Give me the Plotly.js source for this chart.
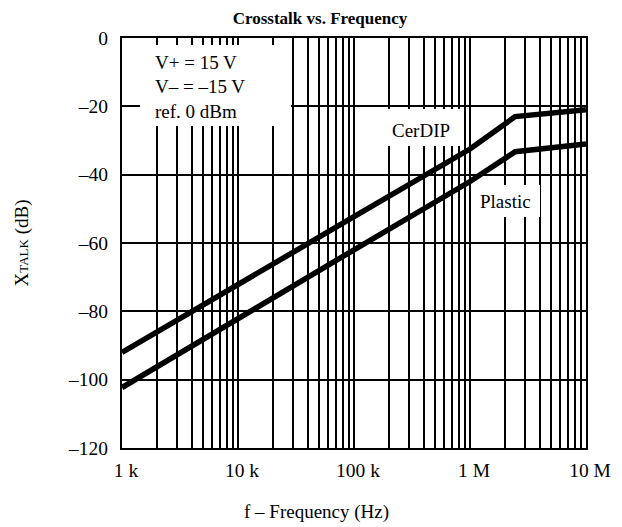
<!DOCTYPE html>
<html>
<head>
<meta charset="utf-8">
<script src="https://cdn.plot.ly/plotly-3.0.1.min.js"></script>
<style>html,body{margin:0;padding:0;background:#fff;}</style>
</head>
<body>
<div id="chart" style="width:622px;height:527px;"></div>
<script>
// Data
const freqHz = [1e3, 1e4, 1e5, 1e6, 2.45e6, 1e7];
const cerdipDb = [-92, -72, -52.3, -32.5, -23, -21];
const plasticDb = [-102.3, -82, -62, -42, -33.3, -31];

const xTickVals = [1e3,2e3,3e3,4e3,5e3,6e3,7e3,8e3,9e3,
                   1e4,2e4,3e4,4e4,5e4,6e4,7e4,8e4,9e4,
                   1e5,2e5,3e5,4e5,5e5,6e5,7e5,8e5,9e5,
                   1e6,2e6,3e6,4e6,5e6,6e6,7e6,8e6,9e6,1e7];
const xTickText = ['1 k','','','','','','','','',
                   '10 k','','','','','','','','',
                   '100 k','','','','','','','','',
                   '1 M','','','','','','','','',
                   '10 M'];
const yTickVals = [0, -20, -40, -60, -80, -100, -120];
const yTickText = ['0', '–20', '–40', '–60', '–80', '–100', '–120'];

const seriesNames = ['CerDIP', 'Plastic'];
const conditionLines = ['V+ = 15 V', 'V– = –15 V', 'ref. 0 dBm'];

const FONT = 'Liberation Serif, Times New Roman, serif';

const traces = [
  {x: freqHz, y: cerdipDb, name: seriesNames[0], mode: 'lines', line: {color: '#000', width: 5.5}},
  {x: freqHz, y: plasticDb, name: seriesNames[1], mode: 'lines', line: {color: '#000', width: 5.5}}
];

const L = 122, R = 586, T = 38, B = 448, W = 622, H = 527;
const px = v => (v - L) / (R - L);
const py = v => (B - v) / (B - T);

// white label backgrounds that blank out the grid (kept clear of the curves)
function box(x0, x1, y0, y1) {
  return {type: 'rect', xref: 'paper', yref: 'paper', x0: px(x0), x1: px(x1), y0: py(y1), y1: py(y0),
          fillcolor: '#fff', line: {width: 0}, layer: 'above'};
}

const layout = {
  width: W, height: H,
  margin: {l: L, r: W - R, t: T, b: H - B, pad: 0},
  paper_bgcolor: '#fff', plot_bgcolor: '#fff',
  showlegend: false,
  font: {family: FONT, size: 19, color: '#000'},
  title: {text: '<b>Crosstalk vs. Frequency</b>', font: {family: FONT, size: 17, color: '#000'},
          xref: 'container', x: 320 / W, xanchor: 'center', yref: 'container', y: 1 - 18 / H, yanchor: 'middle'},
  xaxis: {
    type: 'log', range: [3, 7],
    tickmode: 'array', tickvals: xTickVals, ticktext: xTickText,
    showgrid: true, gridcolor: '#000', gridwidth: 2,
    showline: true, linecolor: '#000', linewidth: 2, mirror: true,
    ticks: '', ticklabelstandoff: 4, ticklabelshift: 4,
    tickfont: {family: FONT, size: 19.5, color: '#000'},
    zeroline: false, fixedrange: true
  },
  yaxis: {
    range: [-120, 0],
    tickmode: 'array', tickvals: yTickVals, ticktext: yTickText,
    showgrid: true, gridcolor: '#000', gridwidth: 2,
    showline: true, linecolor: '#000', linewidth: 2, mirror: true,
    ticks: '', ticklabelstandoff: 8,
    tickfont: {family: FONT, size: 19.5, color: '#000'},
    zeroline: false, fixedrange: true,
    title: {text: 'X<span style="font-size:13px">TALK</span> (dB)', font: {family: FONT, size: 19, color: '#000'}, standoff: 34}
  },
  shapes: [
    box(140, 291, 45, 126),
    box(387, 460, 109, 146),
    box(472, 540, 185, 217)
  ],
  annotations: [
    {xref: 'paper', yref: 'paper', x: px(153), y: py(62), xanchor: 'left', yanchor: 'middle', text: conditionLines[0], showarrow: false, font: {family: FONT, size: 19}},
    {xref: 'paper', yref: 'paper', x: px(153), y: py(86), xanchor: 'left', yanchor: 'middle', text: conditionLines[1], showarrow: false, font: {family: FONT, size: 19}},
    {xref: 'paper', yref: 'paper', x: px(153), y: py(111), xanchor: 'left', yanchor: 'middle', text: conditionLines[2], showarrow: false, font: {family: FONT, size: 19}},
    {xref: 'paper', yref: 'paper', x: px(421), y: py(130), xanchor: 'center', yanchor: 'middle', text: seriesNames[0], showarrow: false, font: {family: FONT, size: 19}},
    {xref: 'paper', yref: 'paper', x: px(505), y: py(201), xanchor: 'center', yanchor: 'middle', text: seriesNames[1], showarrow: false, font: {family: FONT, size: 19}},
    {xref: 'paper', yref: 'paper', x: px(316), y: py(512), xanchor: 'center', yanchor: 'middle', text: 'f – Frequency (Hz)', showarrow: false, font: {family: FONT, size: 19}}
  ]
};

Plotly.newPlot('chart', traces, layout, {displayModeBar: false, staticPlot: true});
</script>
</body>
</html>
